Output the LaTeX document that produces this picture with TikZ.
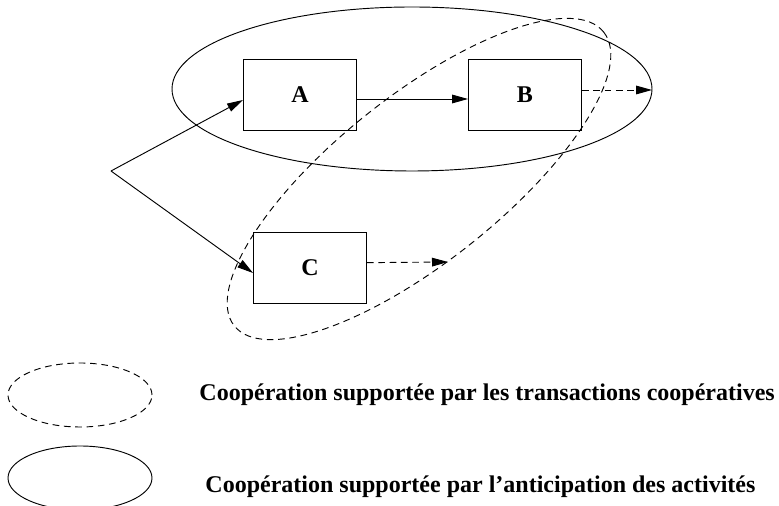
\documentclass[tikz,border=0pt]{standalone}
\usepackage{fontspec}
\setmainfont{Liberation Serif}
\usetikzlibrary{arrows.meta}

\begin{document}
\begin{tikzpicture}[x=0.75pt, y=0.75pt, >={Triangle[length=12pt,width=6.5pt]},
    line width=0.7pt, font=\fontsize{18}{21}\selectfont\bfseries,
    box/.style={draw, minimum width=84.75pt, minimum height=53.25pt, inner sep=0pt},
    dashline/.style={dash pattern=on 5pt off 3.5pt}]
  \useasboundingbox (0,0) rectangle (779,506);
  % activities
  \node[box] (A) at (300,411) {A};
  \node[box] (B) at (525,411) {B};
  \node[box] (C) at (310,238) {C};
  \coordinate (fork) at (111,335);
  \coordinate (bout) at (652,416);
  \coordinate (cout) at (448,244);
  \draw[->] (fork) -- ([yshift=-3.75pt]A.west);
  \draw[->] (fork) -- ([yshift=-3.75pt]C.west);
  \draw[->] ([yshift=-3pt]A.east) -- ([yshift=-3pt]B.west);
  \draw[->, dashline] ([yshift=3.75pt]B.east) -- (bout);
  \draw[->, dashline] ([yshift=4pt]C.east) -- (cout);
  % cooperation zones
  \draw (412,417) ellipse [x radius=240, y radius=82];
  \draw[dashline, rotate around={38.5:(419,327)}] (419,327) ellipse [x radius=236, y radius=83];
  % legend
  \draw[dashline] (80,111) ellipse [x radius=72, y radius=32];
  \draw (80,28) ellipse [x radius=72, y radius=32];
  \node[anchor=west, inner sep=0pt] (leg1) at (199,111) {Coopération supportée par les transactions coopératives};
  \node[anchor=west, inner sep=0pt] (leg2) at (205,19) {Coopération supportée par l’anticipation des activités};
\end{tikzpicture}
\end{document}
